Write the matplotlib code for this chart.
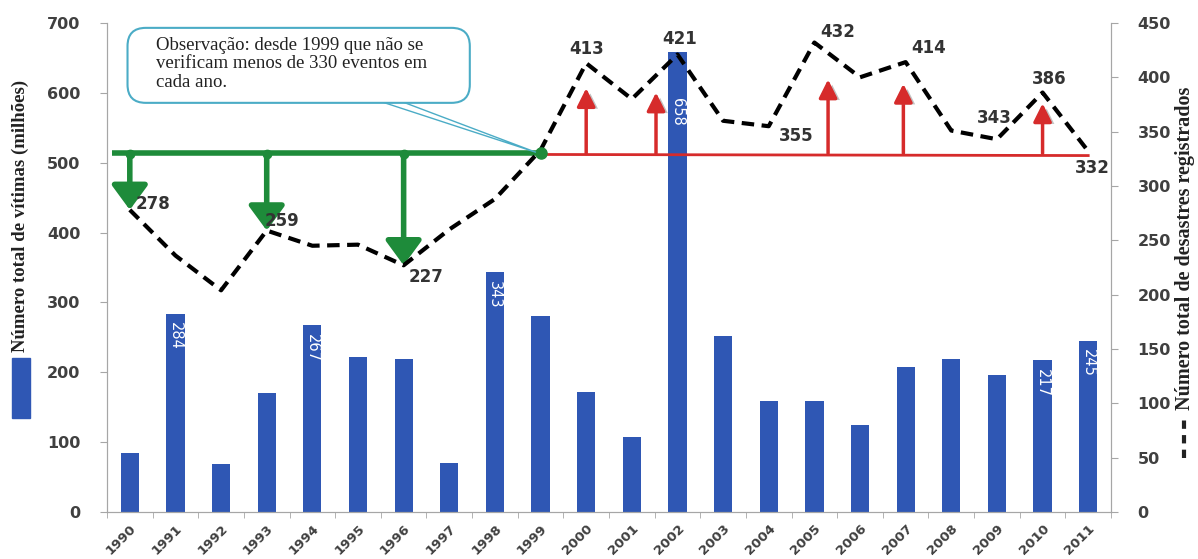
import matplotlib

matplotlib.use("Agg")

import matplotlib.pyplot as plt
import matplotlib.patheffects as pe
import numpy as np
from matplotlib.patches import FancyBboxPatch, Polygon, Rectangle

# data
years = [str(y) for y in range(1990, 2012)]
victims = [85, 284, 68, 171, 267, 222, 219, 70, 343, 281, 172,
           108, 658, 252, 159, 159, 125, 208, 219, 196, 217, 245]
disasters = [278, 236, 204, 259, 245, 246, 227, 260, 288, 333, 413,
             380, 421, 360, 355, 432, 400, 414, 351, 343, 386, 332]
labelled_bars = [1, 4, 8, 12, 20, 21]
labelled_points = [0, 3, 6, 10, 12, 14, 15, 17, 19, 20, 21]
threshold = 330
since_idx = 9  # 1999
down_arrows = [0, 3, 6]
up_arrows = [(10, 390), (11.53, 386), (15.3, 398), (16.95, 394), (20, 376)]
note = "Observação: desde 1999 que não se\nverificam menos de 330 eventos em\ncada ano."

BLUE = "#2F57B4"
GREEN = "#1E8B3A"
RED = "#D62B2B"
GREY = "#A6A6A6"
TXT = "#404040"
TEAL = "#4BACC6"

fig = plt.figure(figsize=(11.98, 5.59), dpi=100)
ax = fig.add_axes([0.0893, 0.0841, 0.9274 - 0.0893, 0.9589 - 0.0841])
ax2 = ax.twinx()

x = np.arange(len(years))
ax.bar(x, victims, width=0.4, color=BLUE, zorder=2)
ax.set_xlim(-0.48, len(years) - 0.5)
ax.set_ylim(0, 700)
ax.set_yticks(range(0, 701, 100))
ax2.set_ylim(0, 450)
ax2.set_yticks(range(0, 451, 50))

for i in labelled_bars:
    drop = 65 if victims[i] > 600 else 12
    ax.text(i, victims[i] - drop, str(victims[i]), rotation=270, ha="center",
            va="top", color="white", fontsize=10.5, zorder=3)

ax.set_xticks(x)
ax.set_xticklabels(years, rotation=45, ha="right", rotation_mode="anchor",
                   fontsize=9.5, color=TXT, fontweight="bold")
ax.set_xticks(np.arange(-0.5, len(years)), minor=True)
ax.tick_params(axis="x", which="major", length=0, pad=7)
ax.tick_params(axis="x", which="minor", length=4, color=GREY)
for a in (ax, ax2):
    a.tick_params(axis="y", length=5, color=GREY, labelsize=11.5,
                  labelcolor=TXT, pad=14)
    for lab in a.get_yticklabels():
        lab.set_fontweight("bold")
    a.spines["top"].set_visible(False)
    for s in ("left", "right", "bottom"):
        a.spines[s].set_color(GREY)

# threshold lines
ax2.plot([-0.4, since_idx], [threshold, threshold], color=GREEN, lw=4, zorder=3,
         solid_capstyle="butt")
ax2.plot([since_idx, 21], [threshold - 1, threshold - 2], color=RED, lw=2, zorder=3)
ax2.plot(since_idx, threshold, "o", color=GREEN, ms=8, zorder=6)

# dashed disaster count line
ax2.plot(x, disasters, color="black", lw=3, ls=(0, (3, 1.8)), zorder=5)

for i in down_arrows:
    ax2.plot(i, threshold - 1, "o", color=GREEN, ms=6, zorder=4)
    ax2.annotate("", xy=(i, disasters[i]), xytext=(i, threshold - 1),
                 arrowprops=dict(arrowstyle="-|>,head_length=0.75,head_width=0.55",
                                 lw=4, color=GREEN, mutation_scale=20,
                                 shrinkA=0, shrinkB=0), zorder=4)

for xi, top in up_arrows:
    an = ax2.annotate("", xy=(xi, top), xytext=(xi, threshold),
                      arrowprops=dict(arrowstyle="-|>,head_length=1.0,head_width=0.5",
                                      lw=2.5, color=RED, mutation_scale=11,
                                      shrinkA=0, shrinkB=0), zorder=4)
    an.arrow_patch.set_path_effects([
        pe.SimplePatchShadow(offset=(3, -1), shadow_rgbFace="#9a9a9a", alpha=0.6),
        pe.Normal()])

offsets = {0: (0.12, 5, "left"), 3: (-0.05, 9, "left"), 6: (0.1, -11, "left"),
           10: (0.0, 13, "center"), 12: (0.05, 14, "center"), 14: (0.6, -9, "center"),
           15: (0.52, 10, "center"), 17: (0.5, 13, "center"), 19: (-0.05, 20, "center"),
           20: (0.14, 12, "center"), 21: (0.08, -15, "center")}
for i in labelled_points:
    dx, dy, ha = offsets[i]
    ax2.text(i + dx, disasters[i] + dy, str(disasters[i]), ha=ha, va="center",
             fontsize=12, fontweight="bold", color="#333333", zorder=7)

# callout
ptr = Polygon([(5.55, 377), (6.0, 377), (since_idx - 0.1, threshold + 1)],
              closed=True, facecolor="white", edgecolor=TEAL, lw=1, zorder=8)
ax2.add_patch(ptr)
box = FancyBboxPatch((-0.05, 376.5), 7.5, 69, boxstyle="round,pad=0,rounding_size=0.4",
                     mutation_aspect=42, facecolor="white", edgecolor=TEAL, lw=1.5,
                     zorder=9)
ax2.add_patch(box)
ax2.text(0.58, 437, note, ha="left", va="top", fontsize=13.5, family="Liberation Serif",
         color="#222222", linespacing=1.1, zorder=10)

# axis titles with legend keys
fig.text(20 / 1198, 1 - 216 / 559, "Número total de vítimas (milhões)", rotation=90,
         ha="center", va="center", fontsize=13.5, fontweight="bold",
         family="Liberation Serif", color="#222222")
fig.patches.append(Rectangle((12 / 1198, 1 - 418 / 559), 18 / 1198, 60 / 559,
                             transform=fig.transFigure, color=BLUE))
fig.text(1185 / 1198, 1 - 248 / 559, "Número total de desastres registrados",
         rotation=90, ha="center", va="center", fontsize=14.5, fontweight="bold",
         family="Liberation Serif", color="#222222")
fig.add_artist(plt.Line2D([1184 / 1198, 1184 / 1198], [1 - 458 / 559, 1 - 416 / 559],
                          transform=fig.transFigure, color="#222222", lw=3,
                          ls=(0, (2, 1.5))))

fig.savefig("out.png", dpi=100)
